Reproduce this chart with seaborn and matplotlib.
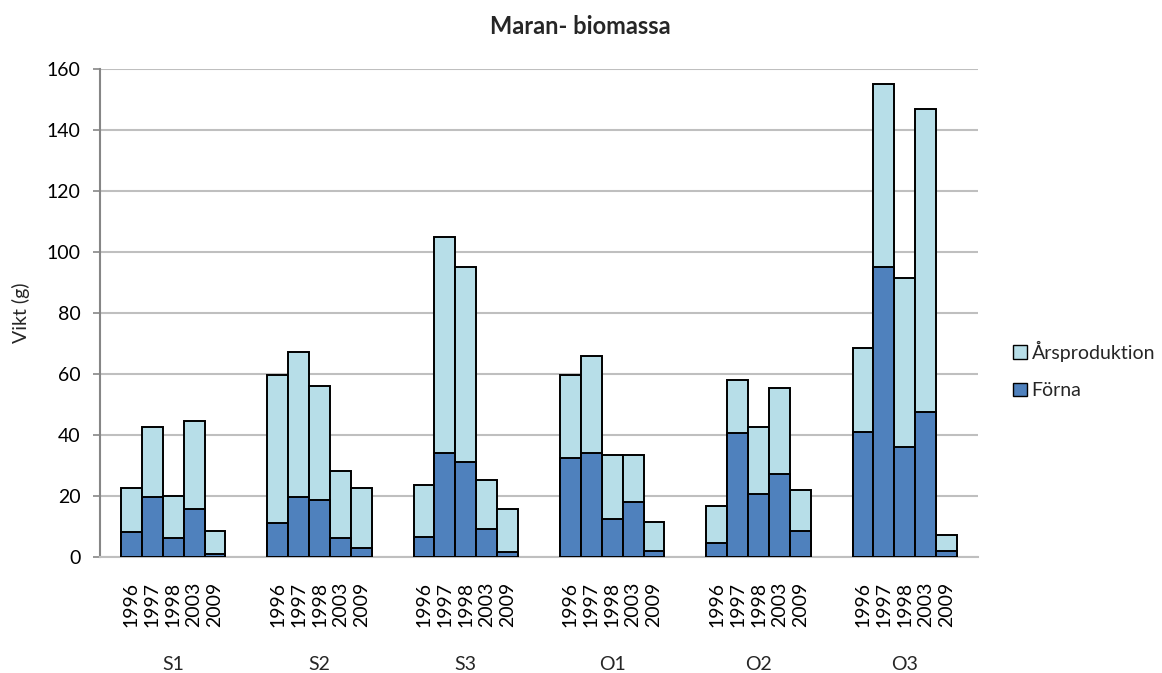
import matplotlib
matplotlib.use("Agg")
import matplotlib.pyplot as plt
from matplotlib.patches import Patch
import seaborn as sns
import pandas as pd

sites = ["S1", "S2", "S3", "O1", "O2", "O3"]
years = ["1996", "1997", "1998", "2003", "2009"]

# total height (Förna + Årsproduktion) per site, per year
totals = {
    "S1": [22.5, 42.5, 20.0, 44.5, 8.5],
    "S2": [59.5, 67.0, 56.0, 28.0, 22.5],
    "S3": [23.5, 105.0, 95.0, 25.0, 15.5],
    "O1": [59.5, 66.0, 33.5, 33.5, 11.5],
    "O2": [16.5, 58.0, 42.5, 55.5, 22.0],
    "O3": [68.5, 155.0, 91.5, 147.0, 7.0],
}
# Förna part per site, per year
forna = {
    "S1": [8.0, 19.5, 6.0, 15.5, 1.0],
    "S2": [11.0, 19.5, 18.5, 6.0, 3.0],
    "S3": [6.5, 34.0, 31.0, 9.0, 1.5],
    "O1": [32.5, 34.0, 12.5, 18.0, 2.0],
    "O2": [4.5, 40.5, 20.5, 27.0, 8.5],
    "O3": [41.0, 95.0, 36.0, 47.5, 2.0],
}

dark = "#4F81BD"
light = "#B7DEE8"
grid_c = "#BFBFBF"
axis_c = "#868686"

rows = []
order = []
labels = []
for s in sites:
    order.append(f"{s}_a")
    labels.append("")
    for i, y in enumerate(years):
        key = f"{s}_{y}"
        order.append(key)
        labels.append(y)
        rows.append({"key": key, "site": s, "year": y,
                     "total": totals[s][i], "forna": forna[s][i]})
    order.append(f"{s}_b")
    labels.append("")
df = pd.DataFrame(rows)

sns.set_theme(style="white")
plt.rcParams["font.family"] = ["Lato", "DejaVu Sans"]

fig = plt.figure(figsize=(11.62, 6.73), dpi=100)
ax = fig.add_axes([100 / 1162, 1 - 556.7 / 673, 878 / 1162, (556.7 - 69) / 673])

sns.barplot(data=df, x="key", y="total", order=order, color=light, saturation=1,
            width=1, edgecolor="black", linewidth=1.4, errorbar=None, ax=ax, zorder=3)
sns.barplot(data=df, x="key", y="forna", order=order, color=dark, saturation=1,
            width=1, edgecolor="black", linewidth=1.4, errorbar=None, ax=ax, zorder=4)

ax.set_xlim(-0.5, len(order) - 0.5)
ax.set_ylim(0, 160)
ax.set_yticks(range(0, 161, 20))
ax.yaxis.grid(True, color=grid_c, linewidth=1.5, zorder=0)
ax.set_axisbelow(True)
ax.set_xticks(range(len(order)))
ax.set_xticklabels(labels, rotation=90, fontsize=14, color="black")
ax.tick_params(axis="x", length=0, pad=18)
ax.tick_params(axis="y", length=5, width=1.2, color=axis_c, labelsize=14,
               labelcolor="black", pad=9, direction="out", left=True)
for side in ["top", "right"]:
    ax.spines[side].set_visible(False)
ax.spines["left"].set_color(axis_c)
ax.spines["left"].set_linewidth(1.5)
ax.spines["bottom"].set_color(grid_c)
ax.spines["bottom"].set_linewidth(1.5)
ax.set_xlabel("")
ax.set_ylabel("Vikt (g)", fontsize=14, labelpad=12)

# group labels
for gi, s in enumerate(sites):
    ax.text(gi * 7 + 3, -(664 - 556.7) / (556.7 - 69), s,
            transform=ax.get_xaxis_transform(), ha="center", va="center", fontsize=14)

fig.text(580 / 1162, 1 - 27 / 673, "Maran- biomassa", ha="center", va="center",
         fontsize=17, fontweight="bold")

handles = [Patch(facecolor=light, edgecolor="black", linewidth=1.0, label="Årsproduktion"),
           Patch(facecolor=dark, edgecolor="black", linewidth=1.0, label="Förna")]
fig.legend(handles=handles, loc="center left", bbox_to_anchor=(1013 / 1162, 1 - 370 / 673),
           frameon=False, fontsize=14, handlelength=0.7, handleheight=0.7,
           handletextpad=0.25, labelspacing=1.05, borderaxespad=0, borderpad=0)

fig.savefig("out.png", dpi=100)
